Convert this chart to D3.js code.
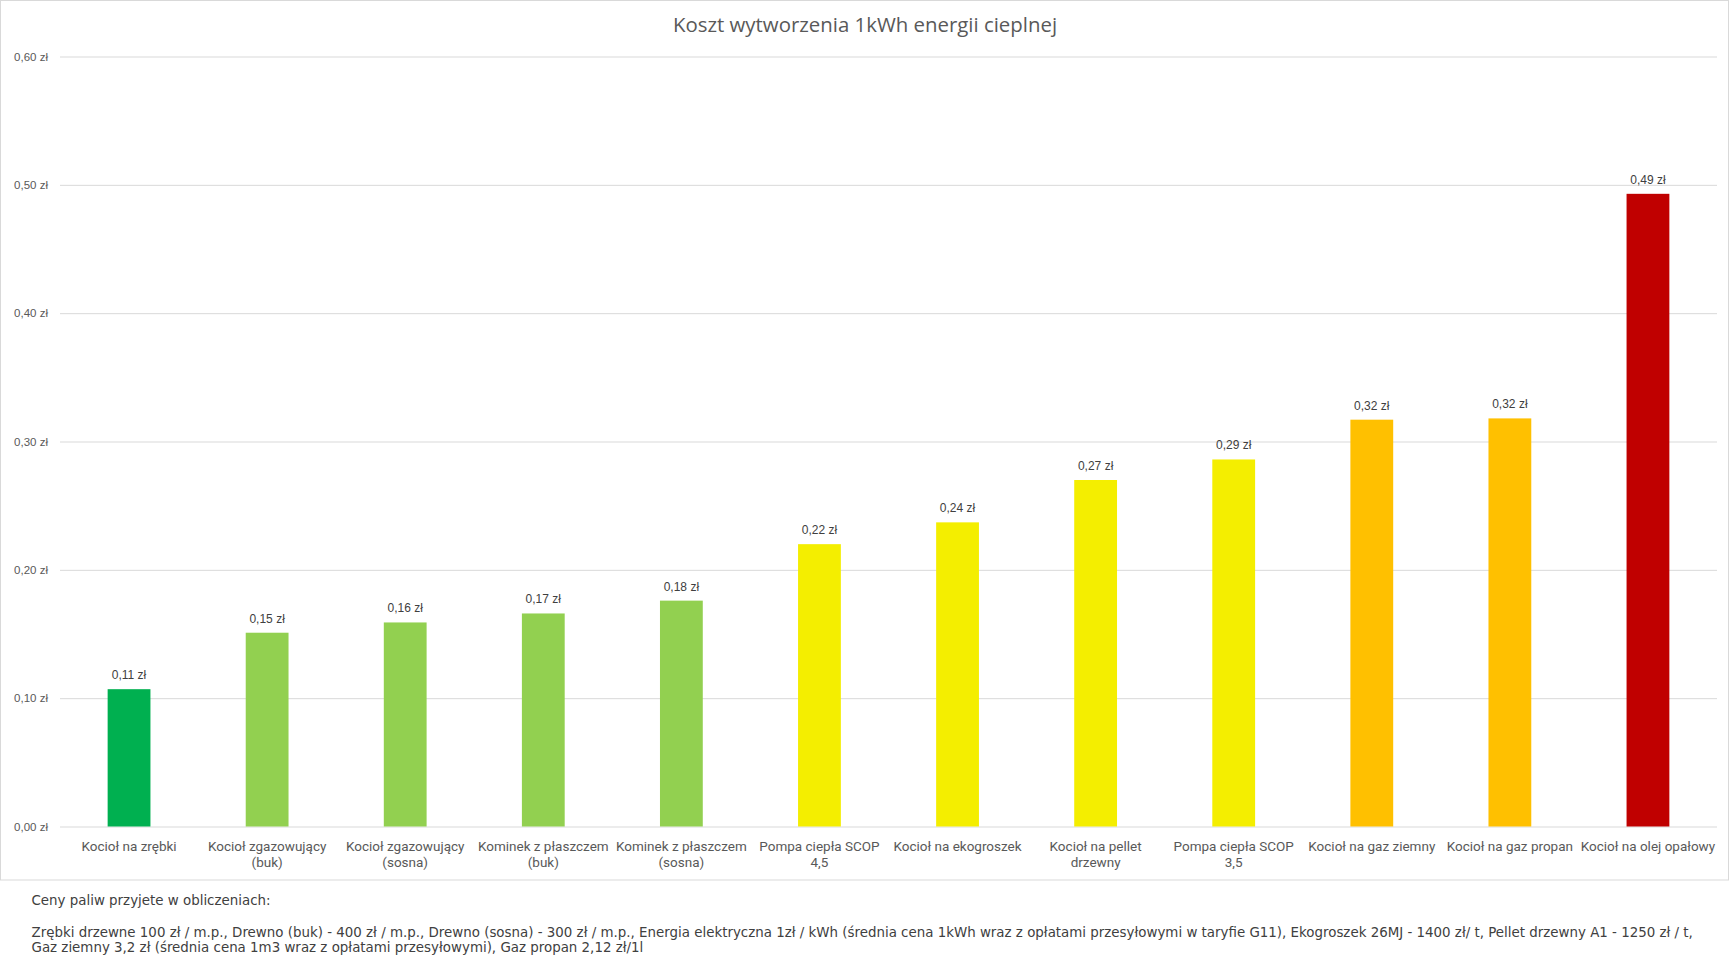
<!DOCTYPE html>
<html><head><meta charset="utf-8">
<script src="https://cdn.jsdelivr.net/npm/d3@7/dist/d3.min.js"></script>
<style>
html,body{margin:0;padding:0;background:#fff;}
svg{display:block;}
</style></head>
<body>
<svg id="chart" width="1731" height="972"></svg>
<script>
const title = "Koszt wytworzenia 1kWh energii cieplnej";
const categories = [
  "Kocioł na zrębki",
  "Kocioł zgazowujący\n(buk)",
  "Kocioł zgazowujący\n(sosna)",
  "Kominek z płaszczem\n(buk)",
  "Kominek z płaszczem\n(sosna)",
  "Pompa ciepła SCOP\n4,5",
  "Kocioł na ekogroszek",
  "Kocioł na pellet\ndrzewny",
  "Pompa ciepła SCOP\n3,5",
  "Kocioł na gaz ziemny",
  "Kocioł na gaz propan",
  "Kocioł na olej opałowy"
];
const values = [0.107, 0.151, 0.159, 0.166, 0.176, 0.220, 0.237, 0.270, 0.286, 0.317, 0.318, 0.493];
const yTicks = [0, 0.1, 0.2, 0.3, 0.4, 0.5, 0.6];
const footerLines = [
  "Ceny paliw przyjete w obliczeniach:",
  "Zrębki drzewne 100 zł / m.p., Drewno (buk) - 400 zł / m.p., Drewno (sosna) - 300 zł / m.p., Energia elektryczna 1zł / kWh (średnia cena 1kWh wraz z opłatami przesyłowymi w taryfie G11), Ekogroszek 26MJ - 1400 zł/ t, Pellet drzewny A1 - 1250 zł / t,",
  "Gaz ziemny 3,2 zł (średnia cena 1m3 wraz z opłatami przesyłowymi), Gaz propan 2,12 zł/1l"
];
const palette = ["#00B050","#92D050","#92D050","#92D050","#92D050","#F4EE00","#F4EE00","#F4EE00","#F4EE00","#FFC000","#FFC000","#C00000"];

(function(){
const svg = d3.select("#chart");
const pl = d3.formatLocale({decimal: ",", thousands: " ", grouping: [3], currency: ["", " zł"]});
const fmt = v => pl.format(".2f")(v) + " zł";

svg.append("rect").attr("x",0.5).attr("y",0.5).attr("width",1728).attr("height",879.5)
  .attr("fill","#fff").attr("stroke","#d9d9d9").attr("stroke-width",1);

const pLeft = 60, pRight = 1717, pTop = 56.5, pBottom = 826.5;
const x = d3.scaleBand().domain(d3.range(categories.length)).range([pLeft, pRight]).paddingInner(0.69).paddingOuter(0.345);
const y = d3.scaleLinear().domain([0, 0.6]).range([pBottom, pTop]);

svg.append("text").attr("x", 865).attr("y", 32).attr("text-anchor","middle")
  .attr("font-family","'Open Sans', 'Noto Sans', sans-serif").attr("font-size", 20.4)
  .attr("fill","#595959").text(title);

const yAxis = d3.axisLeft(y).tickValues(yTicks).tickFormat(fmt).tickSize(-(pRight-pLeft)).tickPadding(12);
const gy = svg.append("g").attr("transform",`translate(${pLeft},0)`).call(yAxis);
gy.select(".domain").remove();
gy.selectAll(".tick line").attr("stroke","#d9d9d9").attr("stroke-width",1);
gy.selectAll(".tick text").attr("fill","#595959").attr("font-family","'Liberation Sans', Arial, sans-serif").attr("font-size",11.5);

svg.append("g").selectAll("rect").data(values).join("rect")
  .attr("x",(d,i)=>x(i)).attr("width",x.bandwidth())
  .attr("y",d=>y(d)).attr("height",d=>y(0)-y(d))
  .attr("fill",(d,i)=>palette[i]);

svg.append("g").selectAll("text").data(values).join("text")
  .attr("x",(d,i)=>x(i)+x.bandwidth()/2).attr("y",d=>y(d)-10)
  .attr("text-anchor","middle").attr("font-family","'Liberation Sans', Arial, sans-serif")
  .attr("font-size",12).attr("fill","#404040").text(d=>fmt(d));

const cl = svg.append("g").selectAll("text").data(categories).join("text")
  .attr("x",(d,i)=>x(i)+x.bandwidth()/2).attr("y",851)
  .attr("text-anchor","middle").attr("font-family","'Liberation Sans Narrow', 'Roboto', sans-serif")
  .attr("font-size",13.5).attr("fill","#595959");
cl.each(function(d){
  const t = d3.select(this);
  d.split("\n").forEach((line,k)=>{
    t.append("tspan").attr("x",t.attr("x")).attr("dy",k===0?0:16).text(line);
  });
});

const fy = [904.5, 937, 951.5];
svg.append("g").selectAll("text").data(footerLines).join("text")
  .attr("x",31.5).attr("y",(d,i)=>fy[i])
  .attr("font-family","'DejaVu Sans', sans-serif")
  .attr("font-size",13.4).attr("fill","#404040").text(d=>d);
})();
</script>
</body></html>
